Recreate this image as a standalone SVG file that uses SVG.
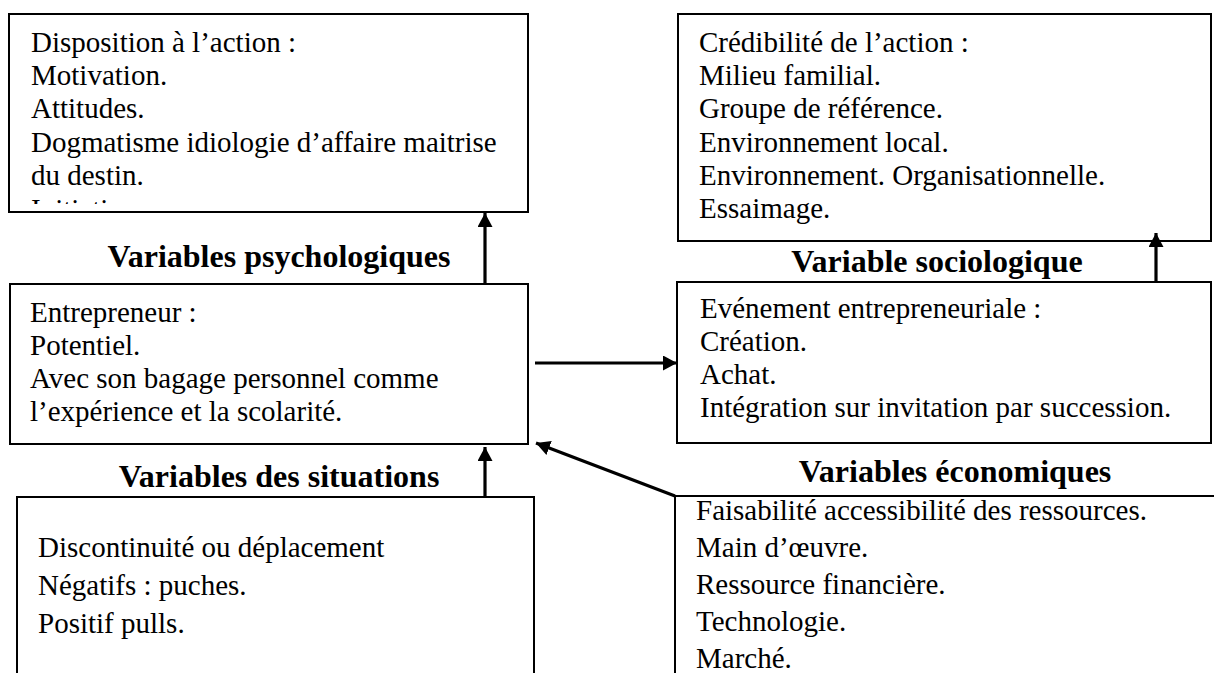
<svg xmlns="http://www.w3.org/2000/svg" width="1214" height="673" viewBox="0 0 1214 673">
<style>
.box{fill:#fff;stroke:#000;stroke-width:2}
.t{font-family:"Liberation Serif","Times New Roman",serif;font-size:29px;fill:#000}
.lbl{font-family:"Liberation Serif","Times New Roman",serif;font-size:32px;font-weight:bold;fill:#000;text-anchor:middle}
.c{fill:none;stroke:#000;stroke-width:3.2}
</style>
<defs>
<marker id="ah" markerUnits="userSpaceOnUse" markerWidth="16" markerHeight="16" refX="14" refY="7.5" orient="auto"><path d="M0,0 L14,7.5 L0,15 z" fill="#000"/></marker>
<clipPath id="clipA"><rect x="9" y="14" width="519" height="190"/></clipPath>
</defs>
<rect width="1214" height="673" fill="#fff"/>
<g id="node-disposition">
<rect class="box" x="9" y="14" width="519" height="198"/>
<g clip-path="url(#clipA)">
<text class="t" x="31" y="52">Disposition à l’action :</text>
<text class="t" x="31" y="85">Motivation.</text>
<text class="t" x="31" y="118">Attitudes.</text>
<text class="t" x="31" y="152">Dogmatisme idiologie d’affaire maitrise</text>
<text class="t" x="31" y="185">du destin.</text>
<text class="t" x="31" y="219">Initiative.</text>
</g>
</g>
<g id="node-credibilite">
<rect class="box" x="678" y="14" width="533" height="227"/>
<text class="t" x="699" y="52">Crédibilité de l’action :</text>
<text class="t" x="699" y="85">Milieu familial.</text>
<text class="t" x="699" y="118">Groupe de référence.</text>
<text class="t" x="699" y="152">Environnement local.</text>
<text class="t" x="699" y="185">Environnement. Organisationnelle.</text>
<text class="t" x="699" y="218">Essaimage.</text>
</g>
<g id="node-entrepreneur">
<rect class="box" x="10" y="284" width="518" height="160"/>
<text class="t" x="30" y="322">Entrepreneur :</text>
<text class="t" x="30" y="355">Potentiel.</text>
<text class="t" x="30" y="388">Avec son bagage personnel comme</text>
<text class="t" x="30" y="421">l’expérience et la scolarité.</text>
</g>
<g id="node-evenement">
<rect class="box" x="677" y="282" width="534" height="161"/>
<text class="t" x="700" y="318">Evénement entrepreneuriale :</text>
<text class="t" x="700" y="351">Création.</text>
<text class="t" x="700" y="384">Achat.</text>
<text class="t" x="700" y="417">Intégration sur invitation par succession.</text>
</g>
<g id="node-situations">
<rect class="box" x="17" y="497" width="517" height="200"/>
<text class="t" x="38" y="557">Discontinuité ou déplacement</text>
<text class="t" x="38" y="595">Négatifs : puches.</text>
<text class="t" x="38" y="633">Positif pulls.</text>
</g>
<g id="node-economiques">
<rect class="box" x="675" y="496" width="560" height="200"/>
<text class="t" x="696" y="520">Faisabilité accessibilité des ressources.</text>
<text class="t" x="696" y="557">Main d’œuvre.</text>
<text class="t" x="696" y="594">Ressource financière.</text>
<text class="t" x="696" y="631">Technologie.</text>
<text class="t" x="696" y="668">Marché.</text>
</g>
<g id="labels">
<text class="lbl" x="279" y="267">Variables psychologiques</text>
<text class="lbl" x="937" y="272">Variable sociologique</text>
<text class="lbl" x="279" y="487">Variables des situations</text>
<text class="lbl" x="955" y="482">Variables économiques</text>
</g>
<g id="connectors">
<path class="c" d="M485,284 L485,213" marker-end="url(#ah)"/>
<path class="c" d="M1156,282 L1156,233" marker-end="url(#ah)"/>
<path class="c" d="M485,497 L485,447" marker-end="url(#ah)"/>
<path class="c" d="M535,363 L677,363" marker-end="url(#ah)"/>
<path class="c" d="M675,496 L536,443" marker-end="url(#ah)"/>
</g>
</svg>
